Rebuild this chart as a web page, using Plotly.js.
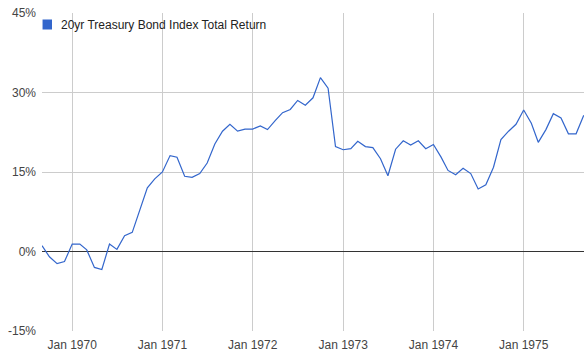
<!DOCTYPE html>
<html>
<head>
<meta charset="utf-8">
<script src="https://cdn.plot.ly/plotly-3.0.1.min.js"></script>
<style>html,body{margin:0;padding:0;background:#fff;}#chart{width:584px;height:360px;}</style>
</head>
<body>
<div id="chart"></div>
<script>
const seriesName = "20yr Treasury Bond Index Total Return";
const months = [
  "1969-09","1969-10","1969-11","1969-12",
  "1970-01","1970-02","1970-03","1970-04","1970-05","1970-06","1970-07","1970-08","1970-09","1970-10","1970-11","1970-12",
  "1971-01","1971-02","1971-03","1971-04","1971-05","1971-06","1971-07","1971-08","1971-09","1971-10","1971-11","1971-12",
  "1972-01","1972-02","1972-03","1972-04","1972-05","1972-06","1972-07","1972-08","1972-09","1972-10","1972-11","1972-12",
  "1973-01","1973-02","1973-03","1973-04","1973-05","1973-06","1973-07","1973-08","1973-09","1973-10","1973-11","1973-12",
  "1974-01","1974-02","1974-03","1974-04","1974-05","1974-06","1974-07","1974-08","1974-09","1974-10","1974-11","1974-12",
  "1975-01","1975-02","1975-03","1975-04","1975-05","1975-06","1975-07","1975-08","1975-09"
];
const totalReturn = [
  1.1, -1.0, -2.3, -1.9,
  1.4, 1.4, 0.3, -3.0, -3.4, 1.4, 0.4, 3.0, 3.6, 7.8, 12.0, 13.7,
  15.0, 18.1, 17.8, 14.2, 14.0, 14.7, 16.7, 20.3, 22.7, 24.0, 22.7, 23.1,
  23.1, 23.7, 23.0, 24.7, 26.2, 26.8, 28.5, 27.6, 29.0, 32.8, 30.8, 19.8,
  19.2, 19.4, 20.8, 19.8, 19.6, 17.5, 14.3, 19.3, 20.9, 20.1, 20.9, 19.4,
  20.2, 17.8, 15.3, 14.5, 15.7, 14.7, 11.8, 12.6, 15.9, 21.1, 22.7, 24.0,
  26.7, 24.2, 20.6, 23.0, 26.0, 25.2, 22.2, 22.2, 25.7
];
const yTicks = [-15, 0, 15, 30, 45];
const xTickVals = ["1970-01-01","1971-01-01","1972-01-01","1973-01-01","1974-01-01","1975-01-01"];
const xTickText = ["Jan 1970","Jan 1971","Jan 1972","Jan 1973","Jan 1974","Jan 1975"];

const trace = {
  x: months.map(m => m + "-01"),
  y: totalReturn,
  type: "scatter",
  mode: "lines",
  name: seriesName,
  line: {color: "#3366cc", width: 1.2},
  showlegend: false,
  hoverinfo: "x+y"
};

const layout = {
  width: 584, height: 360,
  margin: {l: 42, r: 0, t: 13, b: 29, pad: 0},
  paper_bgcolor: "#fff", plot_bgcolor: "#fff",
  font: {family: "Liberation Sans, Arial, sans-serif", size: 12, color: "#444"},
  xaxis: {
    type: "date",
    range: ["1969-09-01", "1975-09-02"],
    tickvals: xTickVals, ticktext: xTickText,
    showgrid: true, gridcolor: "#cccccc", gridwidth: 1,
    showline: false, zeroline: false, ticks: "", ticklen: 0,
    ticklabelstandoff: 5,
    tickfont: {size: 12, color: "#444"}
  },
  yaxis: {
    range: [-15, 45],
    tickvals: yTicks, ticktext: yTicks.map(v => v + "%"),
    showgrid: true, gridcolor: "#cccccc", gridwidth: 1,
    zeroline: true, zerolinecolor: "#333333", zerolinewidth: 1,
    showline: false, ticks: "", ticklen: 0,
    ticklabelstandoff: 5,
    tickfont: {size: 12, color: "#444"}
  },
  shapes: [
    {type: "rect", xref: "paper", yref: "paper", x0: 0.001, x1: 0.0185, y0: 0.9481, y1: 0.9796,
     fillcolor: "#3366cc", line: {width: 0}}
  ],
  annotations: [
    {xref: "paper", yref: "paper", x: 0.0305, y: 0.9638, xanchor: "left", yanchor: "middle",
     text: seriesName, showarrow: false, font: {size: 12, color: "#222"}}
  ]
};

Plotly.newPlot("chart", [trace], layout, {displayModeBar: false, staticPlot: true});
</script>
</body>
</html>
